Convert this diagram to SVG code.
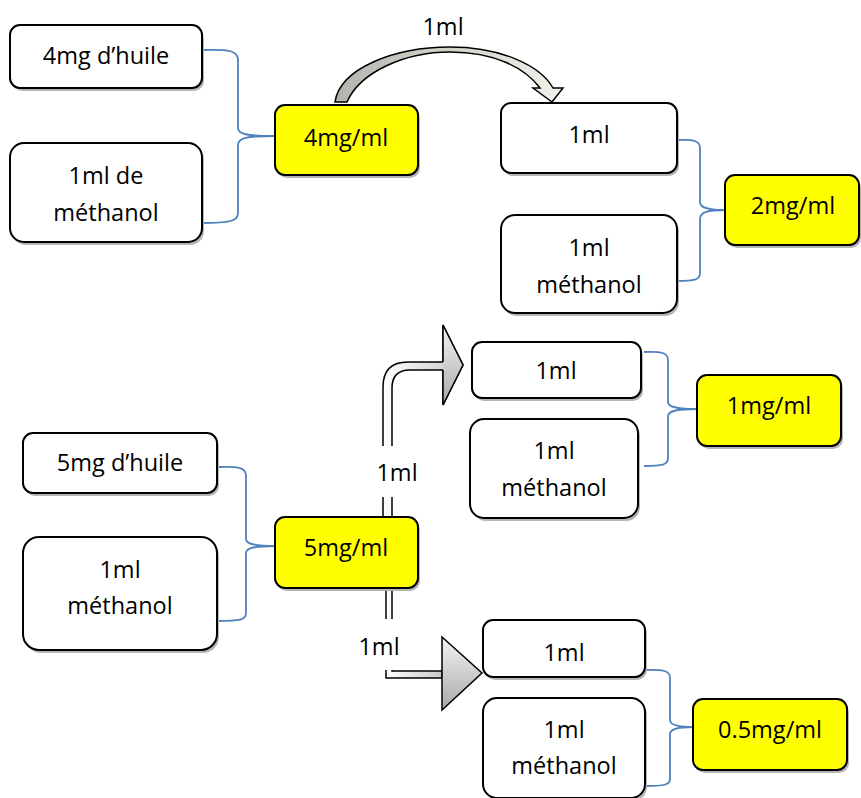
<svg xmlns="http://www.w3.org/2000/svg" width="861" height="798" viewBox="0 0 861 798">
<defs>
<linearGradient id="gCurve" x1="0" y1="0" x2="1" y2="0">
<stop offset="0" stop-color="#B4B4AE"/>
<stop offset="1" stop-color="#F2F2EA"/>
</linearGradient>
<linearGradient id="gShaft" x1="0" y1="0" x2="1" y2="0">
<stop offset="0" stop-color="#FFFFFF"/>
<stop offset="1" stop-color="#C8C8C8"/>
</linearGradient>
<linearGradient id="gHead" x1="0" y1="0" x2="0" y2="1">
<stop offset="0" stop-color="#F4F4F4"/>
<stop offset="1" stop-color="#A8A8A8"/>
</linearGradient>
</defs>
<style>
.sh{fill:#B5B5B5;}
.box{fill:#FFFFFF;stroke:#000000;stroke-width:2;}
.res{fill:#FFFF00;stroke:#000000;stroke-width:2;}
.brace{fill:none;stroke:#4F81BD;stroke-width:1.8;}
.arr{stroke:#000000;stroke-width:1.5;stroke-linejoin:miter;}
text{font-family:"Open Sans","Liberation Sans",sans-serif;font-size:23.5px;fill:#000000;text-anchor:middle;}
</style>
<rect x="0" y="0" width="861" height="798" fill="#FFFFFF"/>

<g id="connectors">
<path class="brace" d="M202,50 C230,49 238,51 238,60 L238,128 C238,134 246,136 275,136 M275,136 C246,136 238,138 238,145 L238,213 C238,221 230,223 202,223"/>
<path class="brace" d="M677,140 C694,139 700,141 700,148 L700,202 C700,208 708,210 725,210 M725,210 C708,210 700,212 700,219 L700,273 C700,280 694,281 677,281"/>
<path class="brace" d="M644,352 C662,351 668,353 668,360 L668,402 C668,407 676,409 697,409 M697,409 C676,409 668,411 668,416 L668,458 C668,465 662,466 644,466"/>
<path class="brace" d="M217,467 C240,466 246,468 246,476 L246,539 C246,544 254,546 275,546 M275,546 C254,546 246,548 246,553 L246,613 C246,620 240,621 217,621"/>
<path class="brace" d="M645,670 C664,669 670,671 670,678 L670,720 C670,725 678,727 693,727 M693,727 C678,727 670,729 670,734 L670,779 C670,785 664,786 645,786"/>
<path class="arr" fill="url(#gCurve)" d="M335,102 C340,68 395,47 450,47 C500,47 540,65 553,88 L563,88 L552,102 L533,88 L540,88 C525,68 495,52 450,52 C405,52 360,72 347,102 Z"/>
<path class="arr" fill="url(#gShaft)" d="M383,518 L383,387 Q383,362 408,362 L443,362 L443,325 L463,365 L443,405 L443,370 L410,370 Q392,370 392,388 L392,518 Z"/>
<path class="arr" fill="url(#gHead)" d="M443,362 L443,325 L463,365 L443,405 L443,370"/>
<rect x="368" y="446" width="58" height="51" fill="#FFFFFF"/>
<text x="397" y="481">1ml</text>
<path class="arr" fill="url(#gShaft)" d="M386,588 L386,678 L442,678 L442,671 L392,671 L392,588 Z"/>
<path class="arr" fill="url(#gHead)" d="M442,637 L482,673 L442,710 Z"/>
<rect x="350" y="619" width="56" height="51" fill="#FFFFFF"/>
<text x="379" y="655">1ml</text>
<text x="443" y="35">1ml</text>
</g>

<g id="n1">
<rect class="sh" x="12" y="28" width="192" height="63" rx="10"/>
<rect class="box" x="10" y="25" width="192" height="63" rx="10"/>
<text x="106" y="64">4mg d’huile</text>
</g>
<g id="n2">
<rect class="sh" x="12" y="146" width="192" height="99" rx="14"/>
<rect class="box" x="10" y="143" width="192" height="99" rx="14"/>
<text x="106" y="184">1ml de</text>
<text x="106" y="221">méthanol</text>
</g>
<g id="n3">
<rect class="sh" x="277" y="108" width="143" height="70" rx="10"/>
<rect class="res" x="275" y="105" width="143" height="70" rx="10"/>
<text x="346" y="146">4mg/ml</text>
</g>
<g id="n4">
<rect class="sh" x="503" y="106" width="176" height="70" rx="10"/>
<rect class="box" x="501" y="103" width="176" height="70" rx="10"/>
<text x="589" y="143">1ml</text>
</g>
<g id="n5">
<rect class="sh" x="503" y="218" width="176" height="98" rx="14"/>
<rect class="box" x="501" y="215" width="176" height="98" rx="14"/>
<text x="589" y="256">1ml</text>
<text x="589" y="293">méthanol</text>
</g>
<g id="n6">
<rect class="sh" x="727" y="178" width="134" height="70" rx="10"/>
<rect class="res" x="725" y="175" width="134" height="70" rx="10"/>
<text x="793" y="214">2mg/ml</text>
</g>
<g id="n7">
<rect class="sh" x="474" y="345" width="169" height="56" rx="10"/>
<rect class="box" x="472" y="342" width="169" height="56" rx="10"/>
<text x="556" y="379">1ml</text>
</g>
<g id="n8">
<rect class="sh" x="472" y="422" width="168" height="99" rx="14"/>
<rect class="box" x="470" y="419" width="168" height="99" rx="14"/>
<text x="554" y="459">1ml</text>
<text x="554" y="496">méthanol</text>
</g>
<g id="n9">
<rect class="sh" x="699" y="378" width="144" height="71" rx="10"/>
<rect class="res" x="697" y="375" width="144" height="71" rx="10"/>
<text x="769" y="414">1mg/ml</text>
</g>
<g id="n10">
<rect class="sh" x="25" y="436" width="194" height="60" rx="10"/>
<rect class="box" x="23" y="433" width="194" height="60" rx="10"/>
<text x="120" y="471">5mg d’huile</text>
</g>
<g id="n11">
<rect class="sh" x="25" y="540" width="194" height="113" rx="16"/>
<rect class="box" x="23" y="537" width="194" height="113" rx="16"/>
<text x="120" y="578">1ml</text>
<text x="120" y="614">méthanol</text>
</g>
<g id="n12">
<rect class="sh" x="277" y="520" width="143" height="71" rx="10"/>
<rect class="res" x="275" y="517" width="143" height="71" rx="10"/>
<text x="346" y="556">5mg/ml</text>
</g>
<g id="n13">
<rect class="sh" x="485" y="623" width="162" height="57" rx="10"/>
<rect class="box" x="483" y="620" width="162" height="57" rx="10"/>
<text x="564" y="661">1ml</text>
</g>
<g id="n14">
<rect class="sh" x="485" y="701" width="162" height="100" rx="14"/>
<rect class="box" x="483" y="698" width="162" height="100" rx="14"/>
<text x="564" y="738">1ml</text>
<text x="564" y="774">méthanol</text>
</g>
<g id="n15">
<rect class="sh" x="695" y="702" width="154" height="71" rx="10"/>
<rect class="res" x="693" y="699" width="154" height="71" rx="10"/>
<text x="770" y="738">0.5mg/ml</text>
</g>
</svg>
